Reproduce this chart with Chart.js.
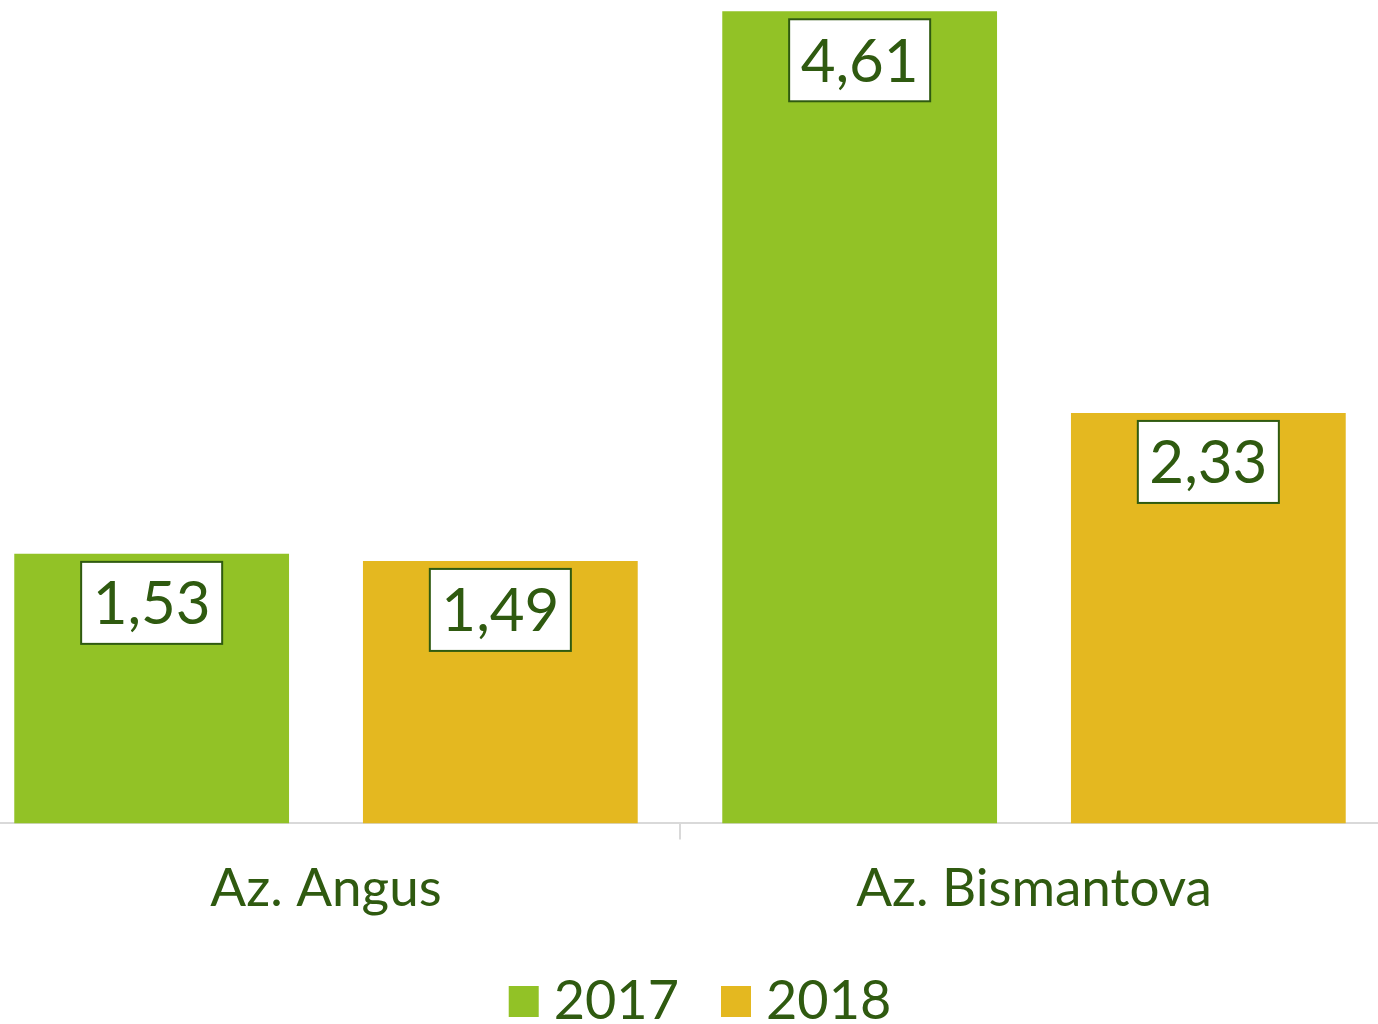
<!DOCTYPE html>
<html>
  <head>
    <script src="https://cdn.jsdelivr.net/npm/chart.js@4.4.0/dist/chart.umd.min.js"></script>
    <style>
      html, body { margin: 0; padding: 0; background: #fff; overflow: hidden; }
      #wrap { position: absolute; left: -28px; top: 0; width: 1416px; height: 1024px; }
    </style>
  </head>
  <body>
    <div id="wrap"><canvas id="myChart"></canvas></div>
    <script>
      // dati
      var categories = ["Az. Angus", "Az. Bismantova"];
      var values2017 = [1.53, 4.61];
      var values2018 = [1.49, 2.33];
      var seriesNames = ["2017", "2018"];
      var seriesColors = ["#92C226", "#E4B820"];

      var textColor = "#2F5A10";
      var fontFamily = "Lato, 'Open Sans', sans-serif";

      // etichette dei valori in riquadri bianchi
      var valueBoxes = {
        id: "valueBoxes",
        afterDatasetsDraw: function(chart) {
          var ctx = chart.ctx;
          ctx.save();
          ctx.font = "60px " + fontFamily;
          ctx.textAlign = "center";
          ctx.textBaseline = "middle";
          chart.data.datasets.forEach(function(ds, i) {
            chart.getDatasetMeta(i).data.forEach(function(bar, j) {
              var txt = ds.data[j].toFixed(2).replace(".", ",");
              var w = ctx.measureText(txt).width + 23;
              var h = 82;
              var top = bar.y + 8;
              ctx.fillStyle = "#fff";
              ctx.fillRect(bar.x - w / 2, top, w, h);
              ctx.strokeStyle = "#2F5A10";
              ctx.lineWidth = 2;
              ctx.strokeRect(bar.x - w / 2, top, w, h);
              ctx.fillStyle = textColor;
              ctx.fillText(txt, bar.x, top + h / 2 + 2);
            });
          });
          ctx.restore();
        }
      };

      // legenda in basso, disegnata a mano
      var bottomLegend = {
        id: "bottomLegend",
        afterDraw: function(chart) {
          var ctx = chart.ctx;
          ctx.save();
          ctx.font = "54px " + fontFamily;
          ctx.textBaseline = "middle";
          var box = 30, gap = 15, space = 42;
          var widths = seriesNames.map(function(n) { return box + gap + ctx.measureText(n).width; });
          var total = widths[0] + widths[1] + space;
          var cx = (chart.chartArea.left + chart.chartArea.right) / 2 + 20;
          var x = cx - total / 2;
          var y = 1001;
          seriesNames.forEach(function(n, i) {
            ctx.fillStyle = seriesColors[i];
            ctx.fillRect(x, y - 15, box, 31);
            ctx.fillStyle = textColor;
            ctx.fillText(n, x + box + gap, y + 1);
            x += widths[i] + space;
          });
          ctx.restore();
        }
      };

      new Chart(document.getElementById("myChart"), {
        type: "bar",
        data: {
          labels: categories,
          datasets: [
            { label: seriesNames[0], data: values2017, backgroundColor: seriesColors[0] },
            { label: seriesNames[1], data: values2018, backgroundColor: seriesColors[1] }
          ]
        },
        options: {
          responsive: true,
          maintainAspectRatio: false,
          animation: false,
          categoryPercentage: 0.985,
          barPercentage: 0.788,
          layout: { padding: { top: 0, bottom: 85, left: 0, right: 0 } },
          plugins: {
            tooltip: { enabled: false },
            legend: { display: false }
          },
          scales: {
            x: {
              border: { color: "#D9D9D9", width: 2 },
              grid: { drawOnChartArea: false, drawTicks: true, tickLength: 16, color: "#D9D9D9", lineWidth: 2 },
              ticks: { color: textColor, font: { family: fontFamily, size: 53 }, padding: 18 }
            },
            y: {
              display: false,
              min: 0,
              max: 4.674
            }
          }
        },
        plugins: [valueBoxes, bottomLegend]
      });
    </script>
  </body>
</html>
